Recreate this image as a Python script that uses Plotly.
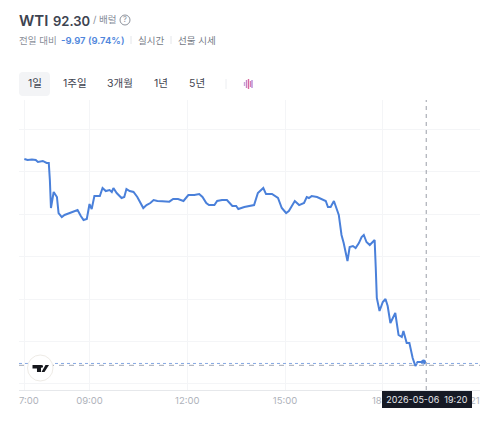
import plotly.graph_objects as go

DAY = "2026-05-06 "
clock = ["07:00","07:06","07:14","07:21","07:25","07:34","07:41","07:45","07:47","07:49","07:54",
 "08:00","08:03","08:09","08:14","08:27","08:38","08:44","08:49","08:55","09:00","09:04","09:09",
 "09:19","09:24","09:30","09:37","09:41","09:44","09:50","09:53","09:59","10:04","10:08","10:14",
 "10:21","10:28","10:39","10:45","10:52","10:58","11:05","11:14","11:27","11:34","11:43","11:53",
 "12:02","12:13","12:22","12:28","12:35","12:40","12:50","12:55","13:04","13:13","13:23","13:30",
 "13:34","13:45","14:03","14:10","14:20","14:25","14:36","14:47","14:54","15:02","15:07","15:18",
 "15:26","15:35","15:40","15:44","15:49","15:59","16:15","16:19","16:24","16:30","16:39","16:44",
 "16:48","16:55","16:59","17:05","17:10","17:16","17:21","17:25","17:30","17:36","17:45","17:47",
 "17:49","17:54","18:00","18:05","18:09","18:14","18:23","18:29","18:35","18:38","18:44","18:49",
 "18:55","19:00","19:04","19:15","19:18"]
price = [116.53,116.41,116.47,116.41,116.18,116.30,116.06,116.06,114.06,110.75,112.64,
 112.05,110.16,109.69,109.93,110.28,110.51,109.81,109.34,109.45,111.22,110.63,112.16,
 112.16,113.11,112.75,112.87,112.64,113.11,112.52,112.28,111.93,112.05,112.99,112.75,
 112.64,112.05,110.75,111.10,111.34,111.69,111.58,111.55,111.50,111.81,111.81,111.58,
 112.28,112.28,112.40,112.05,111.34,111.10,111.10,111.58,111.69,111.69,110.99,110.99,
 110.63,110.87,111.10,112.52,113.11,112.40,112.40,111.93,110.75,110.16,110.40,111.58,
 111.10,111.34,112.05,111.93,112.16,112.05,111.58,110.87,110.87,111.58,109.93,107.57,
 106.62,104.50,106.15,106.27,106.03,106.62,107.33,107.57,106.74,106.39,106.98,103.79,
 100.14,98.61,99.67,100.02,99.20,97.19,98.37,95.78,95.54,96.25,94.83,94.83,
 93.07,92.12,92.59,92.59,92.59]
tick_clock = ["09:00","12:00","15:00"]
last_price = 92.30
prev_line = 92.20
cross_time = "19:20"
y_ticks = [90,95,100,105,110,115,120]

W, H = 480, 437
L, R, T, B = 19, 0, 100, 47
PW, PH = W-L-R, H-T-B
px = lambda x: (x-L)/PW
py = lambda y: (H-B-y)/PH

FONT = "Inter, 'Noto Sans CJK KR', sans-serif"
anns, shapes = [], []

def label(x, y, text, size, color, anchor="left", weight=None, **kw):
    f = dict(family=FONT, size=size, color=color)
    if weight: f["weight"] = weight
    anns.append(dict(x=px(x), y=py(y), xref="paper", yref="paper", text=text, showarrow=False,
             xanchor=anchor, yanchor="middle", font=f, borderpad=0, borderwidth=0, **kw))

def pshape(kind, x0, y0, x1, y1, **kw):
    shapes.append(dict(type=kind, xref="paper", yref="paper", x0=px(x0), y0=py(y0), x1=px(x1), y1=py(y1), **kw))

def path(d_pts, fill):
    d = "M" + " L".join(f"{px(a):.4f},{py(b):.4f}" for a, b in d_pts) + " Z"
    shapes.append(dict(type="path", xref="paper", yref="paper", path=d, fillcolor=fill, line=dict(width=0)))

# header
label(19, 20.5, "WTI", 15, "#3d4350", weight=600)
label(53, 20.5, "92.30", 13, "#3d4350", weight=600)
label(93, 20, "/ 배럴", 9.5, "#868c98")
pshape("circle", 120, 15, 130, 25, line=dict(color="#8d929c", width=1))
label(125, 20, "?", 7.5, "#868c98", "center")
label(19, 40, "전일 대비", 9.5, "#8b909a")
label(61, 40, "-9.97 (9.74%)", 9.5, "#4f86dc", weight=600)
label(138, 40, "실시간", 9.5, "#757b86")
label(178, 40, "선물 시세", 9.5, "#757b86")
for xs in (131, 171):
    pshape("line", xs, 36, xs, 44, line=dict(color="#e4e6ea", width=1))

# tabs
r = 4
d = (f"M{px(19+r):.4f},{py(72):.4f} L{px(50-r):.4f},{py(72):.4f} Q{px(50):.4f},{py(72):.4f} {px(50):.4f},{py(72+r):.4f} "
     f"L{px(50):.4f},{py(96-r):.4f} Q{px(50):.4f},{py(96):.4f} {px(50-r):.4f},{py(96):.4f} "
     f"L{px(19+r):.4f},{py(96):.4f} Q{px(19):.4f},{py(96):.4f} {px(19):.4f},{py(96-r):.4f} "
     f"L{px(19):.4f},{py(72+r):.4f} Q{px(19):.4f},{py(72):.4f} {px(19+r):.4f},{py(72):.4f} Z")
shapes.append(dict(type="path", xref="paper", yref="paper", path=d, fillcolor="#f3f4f6", line=dict(width=0), layer="below"))
for xc, t in [(35, "1일"), (75, "1주일"), (120, "3개월"), (161, "1년"), (197, "5년")]:
    label(xc, 84, t, 10.5, "#3f4450", "center")
pshape("line", 226, 79, 226, 89, line=dict(color="#eceef1", width=1))
for xb, h, c in [(244.5, 2, "#c9a3d6"), (246.5, 4, "#c583c4"), (248.5, 5, "#d9689f"), (250.5, 3, "#d77fb5"), (252, 4, "#b78ad6")]:
    pshape("line", xb, 84-h, xb, 84+h, line=dict(color=c, width=1.4))

# price lines and crosshair
shapes.append(dict(type="line", xref="paper", yref="y", x0=0, x1=1, y0=last_price+0.12, y1=last_price+0.12,
                   line=dict(color="#86a9e2", width=1, dash="dot")))
shapes.append(dict(type="line", xref="paper", yref="y", x0=0, x1=1, y0=prev_line, y1=prev_line,
                   line=dict(color="#a3aab6", width=1, dash="5px,5px")))
shapes.append(dict(type="line", xref="x", yref="paper", x0=DAY+cross_time, x1=DAY+cross_time, y0=0, y1=1,
                   line=dict(color="#9a9fa8", width=1, dash="4px,4px")))

# TradingView badge
pshape("circle", 27.5, 355, 53, 381, fillcolor="#ffffff", line=dict(color="#eeebe6", width=1))
path([(32.5, 365), (41, 365), (41, 372), (37, 372), (37, 368.5), (32.5, 368.5)], "#15171c")
path([(41.5, 372), (45.5, 365), (49, 365), (44.5, 372)], "#15171c")
pshape("circle", 40.2, 365, 43, 367.8, fillcolor="#15171c", line=dict(width=0))

# axis end labels and time tooltip
label(19, 400.5, "7:00", 9.5, "#aeb2ba")
label(381.5, 400.5, "18", 9.5, "#aeb2ba", "right")
label(480, 400.5, "21", 9.5, "#aeb2ba", "right")
label(427, 399.5, f"2026-05-06 &nbsp;{cross_time}", 9, "#e8e9ec", "center", bgcolor="#161a25", width=90, height=17)

fig = go.Figure(go.Scatter(x=[DAY+c for c in clock], y=price, mode="lines",
                           line=dict(color="#4a80da", width=2), hoverinfo="skip"))
fig.add_trace(go.Scatter(x=[DAY+clock[-2]], y=[price[-2]], mode="markers",
                         marker=dict(color="#4a80da", size=5), hoverinfo="skip"))

fig.update_layout(
    width=W, height=H, autosize=False, showlegend=False,
    margin=dict(l=L, r=R, t=T, b=B), paper_bgcolor="#ffffff", plot_bgcolor="#ffffff",
    shapes=shapes, annotations=anns, font=dict(family=FONT),
    xaxis=dict(type="date", range=[DAY+"06:50:10", DAY+"20:59:00"],
               tickvals=[DAY+"07:00"]+[DAY+c for c in tick_clock]+[DAY+"18:00"],
               ticktext=[" "]+tick_clock+[" "],
               showgrid=True, gridcolor="#f4f5f7", gridwidth=1, zeroline=False,
               showline=True, linecolor="#e6e8eb", linewidth=1, ticks="", ticklabelstandoff=2,
               tickfont=dict(size=9.5, color="#aeb2ba", family=FONT)),
    yaxis=dict(range=[89.29, 123.49], tickvals=y_ticks, showticklabels=False, showgrid=True,
               gridcolor="#f4f5f7", gridwidth=1, zeroline=False, showline=False, ticks=""),
)
fig.write_html("out.html", config=dict(displayModeBar=False),
               post_script="document.body.style.margin='0';document.body.style.overflow='hidden';")
